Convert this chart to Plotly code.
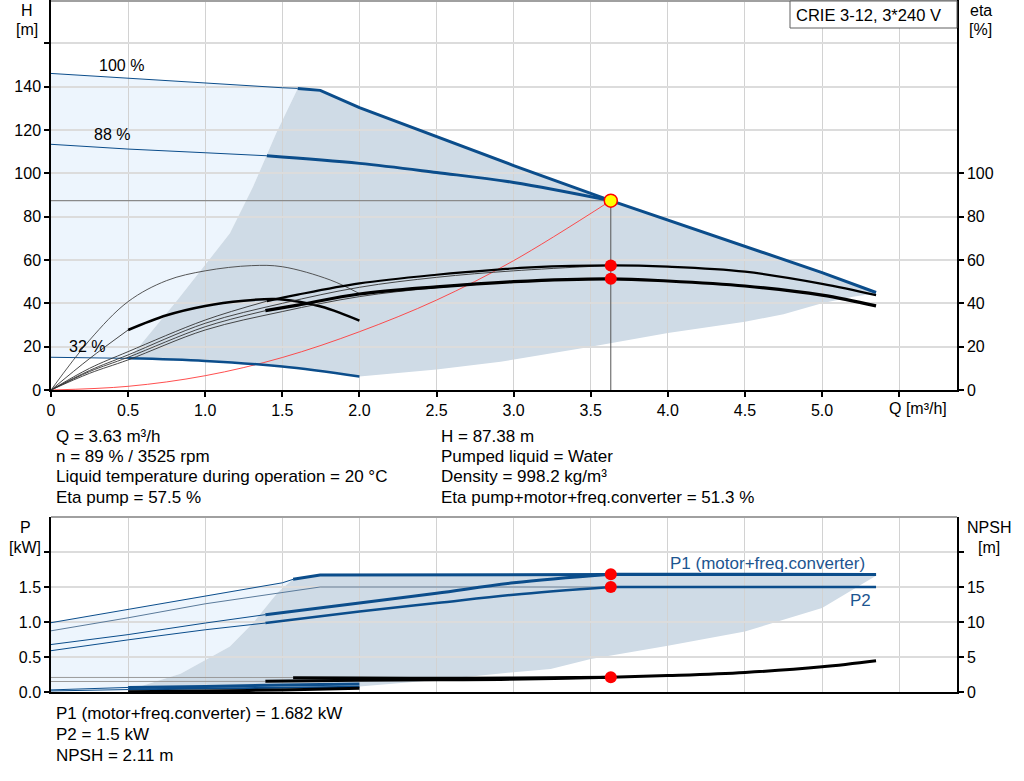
import plotly.graph_objects as go

# ---- top chart: head curves (H [m]) ----
Q_h100_thin = [0, 0.5, 1.0, 1.5, 1.6]
H_h100_thin = [146.1, 143.8, 141.5, 139.5, 139.2]
Q_h100 = [1.6, 1.746, 2.0, 2.5, 3.0, 3.63, 4.0, 4.5, 5.0, 5.35]
H_h100 = [139.2, 138.3, 130.3, 116.8, 103.6, 87.4, 78.5, 66.3, 54.2, 45.0]
Q_h88_thin = [0, 0.5, 1.0, 1.4]
H_h88_thin = [113.4, 111.2, 109.5, 108.1]
Q_h88 = [1.4, 2.0, 2.5, 3.0, 3.63]
H_h88 = [108.1, 104.6, 100.4, 95.8, 87.4]
Q_h32_thin = [0, 0.5]
H_h32_thin = [15.1, 14.6]
Q_h32 = [0.5, 1.0, 1.5, 2.0]
H_h32 = [14.6, 13.4, 10.8, 6.2]

# system curve
Q_sys = [0, 0.5, 1.0, 1.5, 2.0, 2.5, 3.0, 3.63]
H_sys = [0, 1.7, 6.6, 15.0, 26.9, 41.5, 59.7, 87.4]

# operating range boundaries (top)
Q_left = [0.51, 0.82, 1.16, 1.31, 1.46, 1.6]
H_left = [14.8, 41.5, 72.3, 93.8, 118.5, 139.2]
Q_low = [2.0, 2.5, 2.915, 3.5, 4.0, 4.5, 4.75, 5.0, 5.2, 5.35]
H_low = [6.2, 9.5, 13.0, 20.0, 26.3, 31.5, 35.0, 40.0, 43.0, 44.7]

# efficiency curves (eta [%])
Q_e32p = [0, 0.25, 0.5, 0.75, 1.0, 1.3, 1.5, 1.81, 2.0]
E_e32p = [0, 23, 40.8, 50.5, 55, 57.4, 56.9, 50.8, 44.5]
Q_e32t_thin = [0, 0.25, 0.5]
E_e32t_thin = [0, 14.5, 27.7]
Q_e32t = [0.5, 0.75, 1.0, 1.25, 1.45, 1.6, 1.75, 1.87, 2.0]
E_e32t = [27.7, 34.5, 38.8, 41.2, 42.0, 40.8, 38.5, 35.7, 32.0]
Q_e100p = [0, 0.25, 0.5, 1.0, 1.5, 2.0, 2.5, 3.0, 3.63]
E_e100p = [0, 9, 16.2, 30.8, 40, 47.4, 52, 55, 57.5]
Q_e100t = [0, 0.25, 0.5, 1.0, 1.5, 2.0, 2.5, 3.0, 3.63]
E_e100t = [0, 7.7, 13.9, 27.7, 36.2, 43.1, 47.2, 49.8, 51.3]
Q_e88p_thin = [0, 0.25, 0.5, 1.0, 1.4]
E_e88p_thin = [0, 10, 17.7, 32.3, 41]
Q_e88p = [1.4, 1.6, 2.0, 2.5, 2.915, 3.11, 3.63, 4.0, 4.5, 5.0, 5.35]
E_e88p = [41, 44, 49.2, 53.2, 55.7, 56.6, 57.5, 56.9, 54.6, 49, 43.8]
Q_e88t_thin = [0, 0.25, 0.5, 1.0, 1.39]
E_e88t_thin = [0, 8.5, 15.1, 29.2, 36.6]
Q_e88t = [1.39, 1.6, 2.0, 2.5, 3.0, 3.63, 4.0, 4.5, 5.0, 5.35]
E_e88t = [36.6, 39.2, 44.3, 47.6, 50.0, 51.3, 50.3, 48, 43.8, 38.8]

# duty point
Q_op = 3.63
H_op = 87.38
eta_pump_op = 57.5
eta_tot_op = 51.3
P1_op = 1.682
P2_op = 1.5
NPSH_op = 2.11

# ---- bottom chart: power (P [kW]) and NPSH [m] ----
Q_p1_100_thin = [0, 0.5, 1.0, 1.5, 1.57]
P_p1_100_thin = [0.99, 1.18, 1.38, 1.56, 1.61]
Q_p1_100 = [1.57, 1.745, 3.63, 5.35]
P_p1_100 = [1.61, 1.67, 1.68, 1.68]
Q_p2_100_thin = [0, 0.5, 1.0, 1.5, 1.745, 3.63]
P_p2_100_thin = [0.874, 1.06, 1.26, 1.42, 1.5, 1.5]
Q_p1_88_thin = [0, 0.5, 1.0, 1.39]
P_p1_88_thin = [0.678, 0.82, 0.985, 1.105]
Q_p1_88 = [1.39, 2.0, 2.5, 3.0, 3.63]
P_p1_88 = [1.105, 1.27, 1.41, 1.56, 1.682]
Q_p2_88_thin = [0, 0.5, 1.0, 1.39]
P_p2_88_thin = [0.59, 0.745, 0.889, 0.985]
Q_p2_88 = [1.39, 2.0, 2.5, 3.0, 3.63]
P_p2_88 = [0.985, 1.15, 1.27, 1.39, 1.5]
Q_p1_end = [3.63, 5.35]
P_p1_end = [1.682, 1.68]
Q_p2_end = [3.63, 5.35]
P_p2_end = [1.5, 1.5]
Q_p1_32_thin = [0, 0.5]
P_p1_32_thin = [0.03, 0.065]
Q_p1_32 = [0.5, 1.0, 1.5, 2.0]
P_p1_32 = [0.065, 0.08, 0.1, 0.115]
Q_p2_32_thin = [0, 0.5]
P_p2_32_thin = [0.015, 0.035]
Q_p2_32 = [0.5, 1.0, 1.5, 2.0]
P_p2_32 = [0.035, 0.05, 0.06, 0.075]

Q_n100_thin = [0, 1.57]
N_n100_thin = [2.08, 2.07]
Q_n100 = [1.57, 2.0, 2.5, 3.0, 3.63]
N_n100 = [2.02, 2.0, 1.95, 2.0, 2.11]
Q_n88_thin = [0, 1.39]
N_n88_thin = [1.5, 1.52]
Q_n88 = [1.39, 2.0, 2.5, 2.915, 3.63, 4.0, 4.5, 5.0, 5.35]
N_n88 = [1.55, 1.68, 1.74, 1.8, 2.11, 2.35, 2.8, 3.6, 4.47]
Q_n32 = [0.5, 1.0, 1.5, 2.0]
N_n32 = [0.05, 0.15, 0.3, 0.55]

# operating range boundaries (bottom)
Q_pleft = [0.52, 0.84, 1.16, 1.31, 1.47, 1.57]
P_pleft = [0.04, 0.26, 0.65, 0.985, 1.42, 1.61]
Q_plow = [0.52, 1.0, 1.5, 2.0, 2.5, 2.915, 3.24, 3.5, 4.0, 4.5, 5.0, 5.35]
P_plow = [0.04, 0.05, 0.065, 0.08, 0.17, 0.265, 0.33, 0.47, 0.66, 0.865, 1.2, 1.66]

# ticks
Q_ticks = [0, 0.5, 1.0, 1.5, 2.0, 2.5, 3.0, 3.5, 4.0, 4.5, 5.0, 5.5]
Q_labels = ["0", "0.5", "1.0", "1.5", "2.0", "2.5", "3.0", "3.5", "4.0", "4.5", "5.0", ""]
H_ticks = [0, 20, 40, 60, 80, 100, 120, 140, 160]
H_labels = ["0", "20", "40", "60", "80", "100", "120", "140", ""]
eta_ticks = [0, 20, 40, 60, 80, 100]
P_ticks = [0, 0.5, 1.0, 1.5, 2.0]
P_labels = ["0.0", "0.5", "1.0", "1.5", ""]
N_ticks = [0, 5, 10, 15, 20]
N_labels = ["0", "5", "10", "15", ""]

BLUE = "#0b4d8b"
LIGHT = "#edf5fd"
DARK = "#cfdbe6"
FONT = "Liberation Sans, Arial, sans-serif"

L, R, T, B = 51, 67, 0, 89
W, HGT = 1024, 781
PW, PH = W - L - R, HGT - T - B


def px(x):
    return (x - L) / PW


def py(y):
    return (HGT - B - y) / PH


def path(qs, vs):
    return "M " + " L ".join(f"{q},{v}" for q, v in zip(qs, vs)) + " Z"


fig = go.Figure()


def line(q, v, xa, ya, color, width, shape="linear"):
    fig.add_trace(go.Scatter(x=q, y=v, xaxis=xa, yaxis=ya, mode="lines",
                             line=dict(color=color, width=width, shape=shape),
                             hoverinfo="skip"))


def dots(q, v, xa, ya):
    fig.add_trace(go.Scatter(x=q, y=v, xaxis=xa, yaxis=ya, mode="markers",
                             marker=dict(color="#ff0000", size=12), hoverinfo="skip"))


# fills drawn as shapes under the gridlines
light_top_q = Q_h100_thin + Q_left[::-1][1:] + Q_h32_thin[::-1]
light_top_h = H_h100_thin + H_left[::-1][1:] + H_h32_thin[::-1]
dark_top_q = Q_left + Q_h100[1:] + Q_low[::-1] + Q_h32[::-1]
dark_top_h = H_left + H_h100[1:] + H_low[::-1] + H_h32[::-1]
light_bot_q = Q_p1_100_thin + Q_pleft[::-1][1:] + Q_p2_32_thin[::-1]
light_bot_p = P_p1_100_thin + P_pleft[::-1][1:] + P_p2_32_thin[::-1]
dark_bot_q = Q_pleft + Q_p1_100[1:] + Q_plow[::-1]
dark_bot_p = P_pleft + P_p1_100[1:] + P_plow[::-1]

shapes = [
    dict(type="path", path=path(light_top_q, light_top_h), xref="x", yref="y",
         fillcolor=LIGHT, line=dict(width=0), layer="below"),
    dict(type="path", path=path(dark_top_q, dark_top_h), xref="x", yref="y",
         fillcolor=DARK, line=dict(width=0), layer="below"),
    dict(type="path", path=path(light_bot_q, light_bot_p), xref="x2", yref="y3",
         fillcolor=LIGHT, line=dict(width=0), layer="below"),
    dict(type="path", path=path(dark_bot_q, dark_bot_p), xref="x2", yref="y3",
         fillcolor=DARK, line=dict(width=0), layer="below"),
    # top borders
    dict(type="line", xref="paper", yref="paper", x0=0, x1=1, y0=py(1), y1=py(1),
         line=dict(color="#a0a0a0", width=2)),
    dict(type="line", xref="paper", yref="paper", x0=0, x1=1, y0=py(517), y1=py(517),
         line=dict(color="#a0a0a0", width=2)),
    # model box
    dict(type="rect", xref="paper", yref="paper", x0=px(790), x1=1, y0=py(28), y1=py(1),
         fillcolor="white", line=dict(color="#606060", width=1)),
]

# ---- top traces ----
line(Q_sys, H_sys, "x", "y", "#ff3b3b", 0.9, "spline")
line([0, Q_op], [H_op, H_op], "x", "y", "#8a8a8a", 1.3)
line([Q_op, Q_op], [0, H_op], "x", "y", "#555555", 1)

line(Q_h100_thin, H_h100_thin, "x", "y", BLUE, 1)
line(Q_h100, H_h100, "x", "y", BLUE, 3)
line(Q_h88_thin, H_h88_thin, "x", "y", BLUE, 1)
line(Q_h88, H_h88, "x", "y", BLUE, 3, "spline")
line(Q_h32_thin, H_h32_thin, "x", "y", BLUE, 1)
line(Q_h32, H_h32, "x", "y", BLUE, 2.5, "spline")

line(Q_e32p, E_e32p, "x", "y2", "#444444", 0.9, "spline")
line(Q_e32t_thin, E_e32t_thin, "x", "y2", "#333333", 0.9, "spline")
line(Q_e32t, E_e32t, "x", "y2", "black", 2.5, "spline")
line(Q_e100p, E_e100p, "x", "y2", "#333333", 0.9, "spline")
line(Q_e100t, E_e100t, "x", "y2", "#333333", 0.9, "spline")
line(Q_e88p_thin, E_e88p_thin, "x", "y2", "#333333", 0.9, "spline")
line(Q_e88p, E_e88p, "x", "y2", "black", 2.2, "spline")
line(Q_e88t_thin, E_e88t_thin, "x", "y2", "#333333", 0.9, "spline")
line(Q_e88t, E_e88t, "x", "y2", "black", 3.2, "spline")

dots([Q_op, Q_op], [eta_pump_op, eta_tot_op], "x", "y2")
fig.add_trace(go.Scatter(x=[Q_op], y=[H_op], xaxis="x", yaxis="y", mode="markers",
                         marker=dict(color="#ffff00", size=13,
                                     line=dict(color="#ff0000", width=1.5)),
                         hoverinfo="skip"))

# ---- bottom traces ----
line(Q_n100_thin, N_n100_thin, "x2", "y4", "#9a9a9a", 1)
line(Q_n88_thin, N_n88_thin, "x2", "y4", "#9a9a9a", 1)
line(Q_n100, N_n100, "x2", "y4", "black", 3, "spline")
line(Q_n88, N_n88, "x2", "y4", "black", 3, "spline")
line(Q_n32, N_n32, "x2", "y4", "black", 3, "spline")

line(Q_p2_32_thin, P_p2_32_thin, "x2", "y3", BLUE, 1)
line(Q_p2_32, P_p2_32, "x2", "y3", BLUE, 2, "spline")
line(Q_p1_32_thin, P_p1_32_thin, "x2", "y3", BLUE, 1)
line(Q_p1_32, P_p1_32, "x2", "y3", BLUE, 3, "spline")

line(Q_p1_100_thin, P_p1_100_thin, "x2", "y3", BLUE, 1)
line(Q_p1_100, P_p1_100, "x2", "y3", BLUE, 3)
line(Q_p2_100_thin, P_p2_100_thin, "x2", "y3", "#5a7a9a", 1)
line(Q_p1_88_thin, P_p1_88_thin, "x2", "y3", BLUE, 1)
line(Q_p1_88, P_p1_88, "x2", "y3", BLUE, 3, "spline")
line(Q_p2_88_thin, P_p2_88_thin, "x2", "y3", BLUE, 1)
line(Q_p2_88, P_p2_88, "x2", "y3", BLUE, 2.5, "spline")
line(Q_p1_end, P_p1_end, "x2", "y3", BLUE, 3)
line(Q_p2_end, P_p2_end, "x2", "y3", BLUE, 2.5)

dots([Q_op, Q_op], [P1_op, P2_op], "x2", "y3")
dots([Q_op], [NPSH_op], "x2", "y4")

# ---- axes ----
axis_common = dict(showline=True, linecolor="black", linewidth=1.5, ticks="outside",
                   ticklen=5, tickwidth=1.5, tickcolor="black", zeroline=False,
                   automargin=False, tickfont=dict(size=16, color="black"))
top_lo = py(390)
bot_hi = py(517)

fig.update_layout(
    width=W, height=HGT,
    margin=dict(l=L, r=R, t=T, b=B),
    plot_bgcolor="rgba(0,0,0,0)", paper_bgcolor="white",
    showlegend=False,
    font=dict(family=FONT, size=16, color="black"),
    xaxis=dict(axis_common, domain=[0, 1], range=[0, 5.875], anchor="y",
               tickvals=Q_ticks, ticktext=Q_labels, showgrid=True,
               gridcolor="#d2d2d2", gridwidth=1),
    yaxis=dict(axis_common, domain=[top_lo, 1], range=[0, 180], anchor="x",
               tickvals=H_ticks, ticktext=H_labels, showgrid=True,
               gridcolor="#dcdcdc", gridwidth=2),
    yaxis2=dict(axis_common, overlaying="y", side="right", anchor="x",
                range=[0, 180], tickvals=eta_ticks, showgrid=False),
    xaxis2=dict(axis_common, domain=[0, 1], range=[0, 5.875], anchor="y3",
                tickvals=Q_ticks, showticklabels=False, ticks="", showgrid=True,
                gridcolor="#d2d2d2", gridwidth=1),
    yaxis3=dict(axis_common, domain=[0, bot_hi], range=[0, 2.5], anchor="x2",
                tickvals=P_ticks, ticktext=P_labels, showgrid=True,
                gridcolor="#dcdcdc", gridwidth=2),
    yaxis4=dict(axis_common, overlaying="y3", side="right", anchor="x2",
                range=[0, 25], tickvals=N_ticks, ticktext=N_labels, showgrid=False),
    shapes=shapes,
)

ann = []


def text(x, y, s, xanchor="center", color="black", xref="paper", yref="paper", size=16):
    ann.append(dict(x=x, y=y, text=s, xref=xref, yref=yref, showarrow=False,
                    xanchor=xanchor, yanchor="middle",
                    font=dict(family=FONT, size=size, color=color)))


# axis titles
text(px(27), py(11), "H")
text(px(27), py(30), "[m]")
text(px(981), py(11), "eta")
text(px(980), py(30), "[%]")
text(px(25), py(527), "P")
text(px(25), py(547), "[kW]")
text(px(989), py(527), "NPSH")
text(px(989), py(547), "[m]")
text(px(918), py(408), "Q [m³/h]")
text(px(868), py(15), "CRIE 3-12, 3*240 V", size=16.5)

# curve labels
text(0.454, 150, "100 %", xref="x", yref="y")
text(0.396, 118.1, "88 %", xref="x", yref="y")
text(0.233, 20.3, "32 %", xref="x", yref="y")
text(4.643, 1.842, "P1 (motor+freq.converter)", color="#1d5590", xref="x2", yref="y3", size=17)
text(5.246, 1.312, "P2", color="#1d5590", xref="x2", yref="y3", size=17)

# info block
left_lines = ["Q = 3.63 m³/h", "n = 89 % / 3525 rpm",
              "Liquid temperature during operation = 20 °C", "Eta pump = 57.5 %"]
right_lines = ["H = 87.38 m", "Pumped liquid = Water", "Density = 998.2 kg/m³",
               "Eta pump+motor+freq.converter = 51.3 %"]
rows = [436, 456, 476, 497]
for s, r in zip(left_lines, rows):
    text(px(54), py(r), s, xanchor="left", size=17)
for s, r in zip(right_lines, rows):
    text(px(439), py(r), s, xanchor="left", size=17)
bottom_lines = ["P1 (motor+freq.converter) = 1.682 kW", "P2 = 1.5 kW", "NPSH = 2.11 m"]
for s, r in zip(bottom_lines, [713, 734, 755]):
    text(px(54), py(r), s, xanchor="left", size=17)

fig.update_layout(annotations=ann)
fig.write_html("out.html", config={"displayModeBar": False},
               post_script="document.body.style.margin='0';")
